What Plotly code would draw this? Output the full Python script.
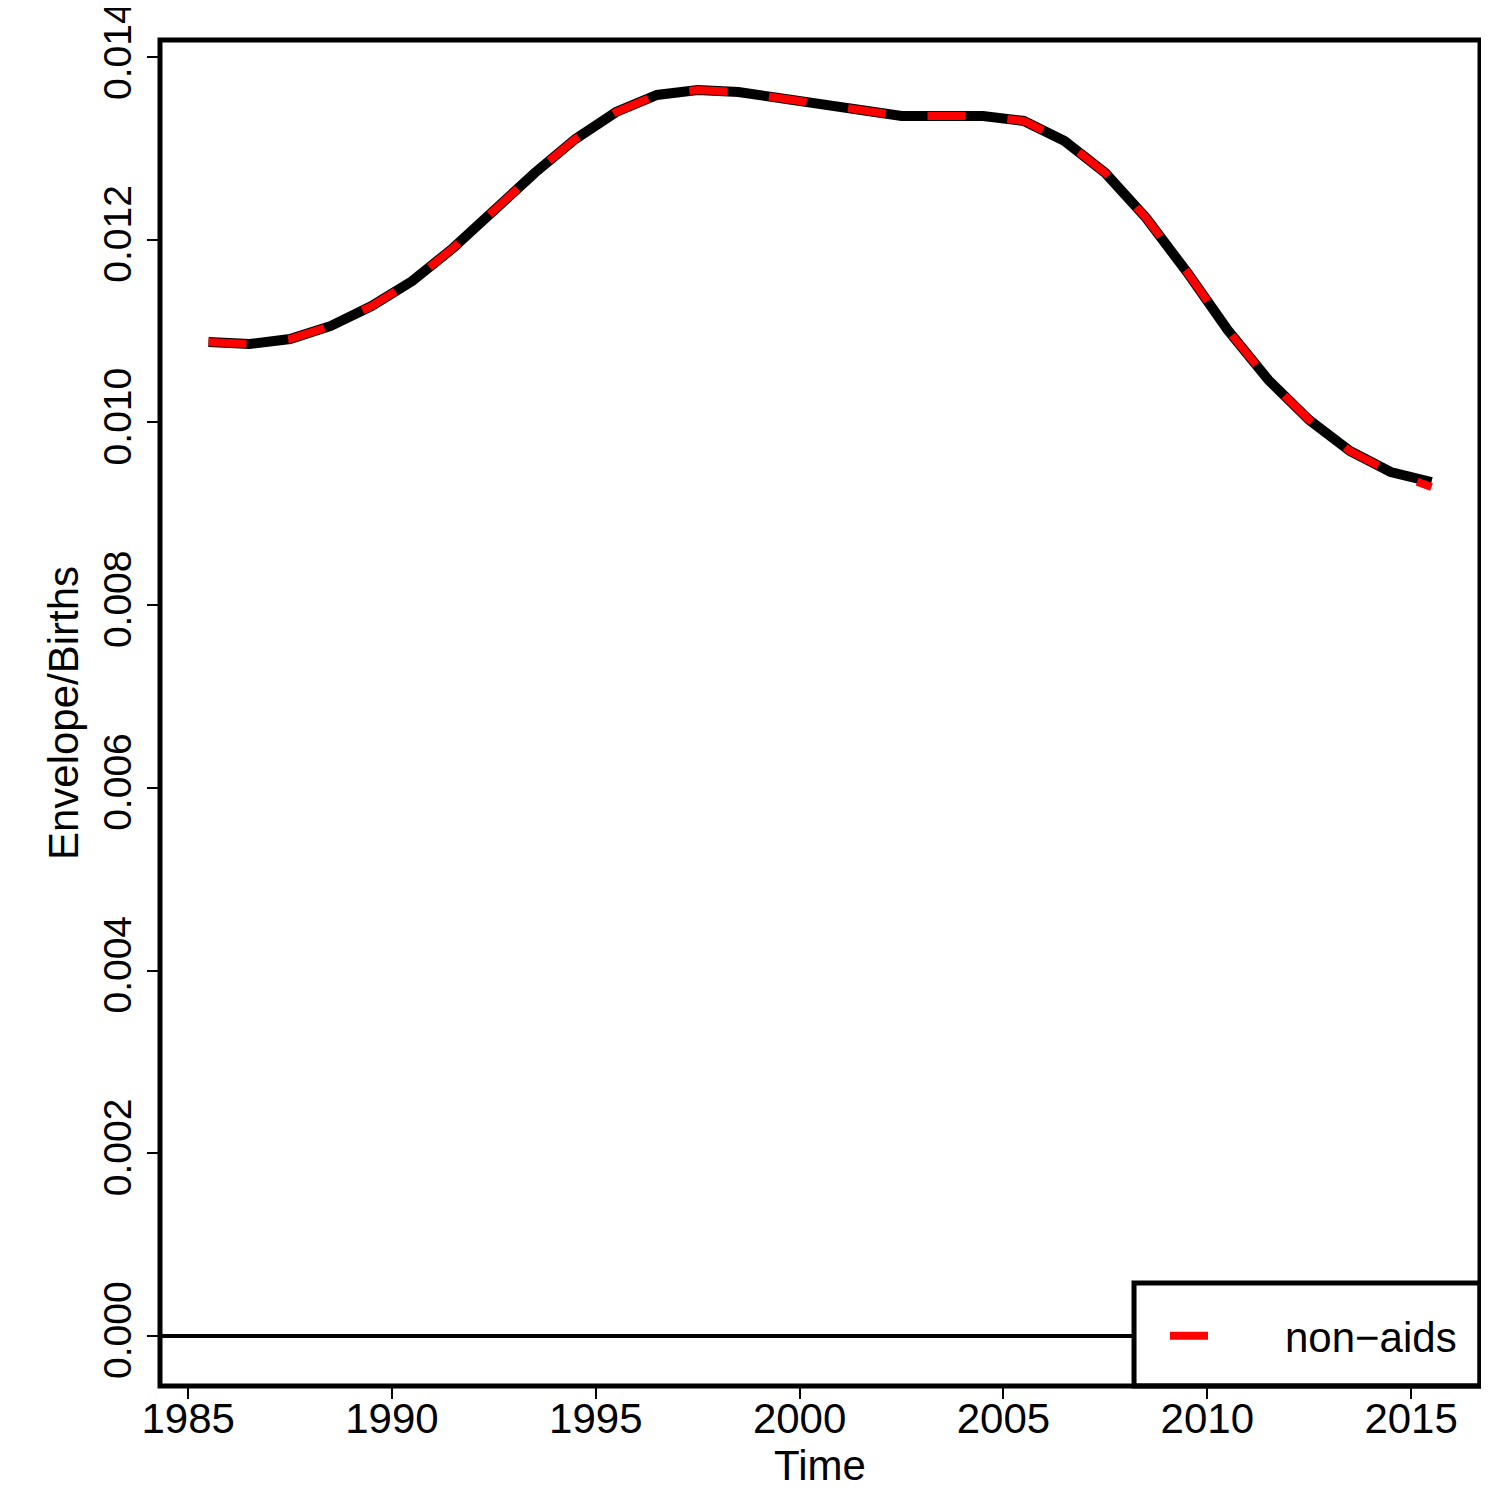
import plotly.graph_objects as go

years = [1985.5 + i for i in range(31)]
envelope_total = [0.01088, 0.010858, 0.010913, 0.011056, 0.011274, 0.011548, 0.011909,
                  0.012325, 0.012730, 0.013102, 0.013398, 0.013584, 0.013639, 0.013617,
                  0.013551, 0.013464, 0.013398, 0.013354, 0.013354, 0.013354, 0.013300,
                  0.013081, 0.012730, 0.012238, 0.011647, 0.011012, 0.010465, 0.010027,
                  0.009687, 0.009457, 0.009348]
envelope_nonaids = [0.01088, 0.010858, 0.010913, 0.011056, 0.011274, 0.011548, 0.011909,
                    0.012325, 0.012730, 0.013102, 0.013398, 0.013584, 0.013639, 0.013617,
                    0.013551, 0.013464, 0.013398, 0.013354, 0.013354, 0.013354, 0.013300,
                    0.013081, 0.012730, 0.012238, 0.011647, 0.011012, 0.010465, 0.010027,
                    0.009687, 0.009457, 0.009293]
x_ticks = [1985, 1990, 1995, 2000, 2005, 2010, 2015]
y_ticks = [0.000, 0.002, 0.004, 0.006, 0.008, 0.010, 0.012, 0.014]

FONT = "Liberation Sans, Arial, Helvetica, sans-serif"
NBSP = "\u00a0"

fig = go.Figure()
fig.add_trace(go.Scatter(x=years, y=envelope_total, mode="lines",
                         line=dict(color="black", width=10),
                         showlegend=False, name="total"))
fig.add_trace(go.Scatter(x=years, y=envelope_nonaids, mode="lines",
                         line=dict(color="#ff0000", width=8, dash="38px,42px"),
                         name=NBSP * 3 + "non\u2212aids"))

# zero reference line
fig.add_shape(type="line", xref="paper", x0=0, x1=1, yref="y", y0=0, y1=0,
              line=dict(color="black", width=4), layer="below")
# legend frame (white box covering the zero line)
fig.add_shape(type="rect", xref="paper", yref="paper", x0=0.7379, x1=1, y0=0, y1=0.0765,
              line=dict(color="black", width=5), fillcolor="white", layer="above")
# plot frame
fig.add_shape(type="rect", xref="paper", yref="paper", x0=0, x1=1, y0=0, y1=1,
              line=dict(color="black", width=5), layer="above")

fig.update_layout(
    width=1481, height=1481,
    margin=dict(l=152, r=9, t=32, b=103, autoexpand=False),
    paper_bgcolor="white", plot_bgcolor="white",
    font=dict(family=FONT, size=42, color="black"),
    legend=dict(x=(1165 - 160) / 1320, y=(1386 - 1336) / 1346,
                xanchor="left", yanchor="middle",
                bgcolor="rgba(0,0,0,0)", borderwidth=0,
                font=dict(size=42), itemwidth=75),
    xaxis=dict(range=[1984.31, 2016.69], tickvals=x_ticks,
               ticktext=[str(v) for v in x_ticks],
               ticks="outside", ticklen=12, tickwidth=2, tickcolor="black",
               showgrid=False, zeroline=False, showline=False, automargin=False,
               tickfont=dict(size=42), ticklabelstandoff=-16,
               ticklabeloverflow="allow",
               title=dict(text="Time", font=dict(size=42), standoff=12)),
    yaxis=dict(range=[-0.000547, 0.014186], tickvals=y_ticks,
               ticktext=["%.3f" % v for v in y_ticks], tickangle=-90,
               ticks="outside", ticklen=12, tickwidth=2, tickcolor="black",
               showgrid=False, zeroline=False, showline=False, automargin=False,
               tickfont=dict(size=39), ticklabeloverflow="allow",
               title=dict(text="Envelope/Births", font=dict(size=42), standoff=4)),
)

fig.write_html("out.html")
